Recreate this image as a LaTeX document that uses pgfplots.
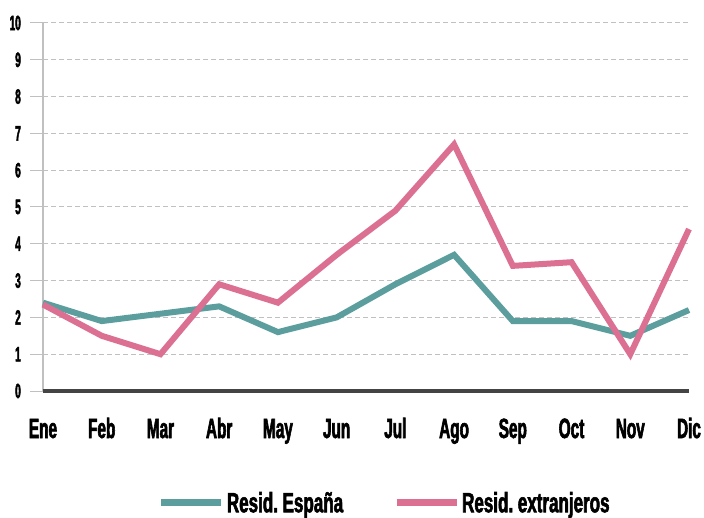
\documentclass[border=0pt]{standalone}
\usepackage{fontspec}
\setmainfont{Liberation Sans Bold}[FakeStretch=0.55, FakeBold=2]
\newfontfamily\numfont{Liberation Sans Bold}[FakeStretch=0.48, FakeBold=2]
\newfontfamily\legfont{Liberation Sans Bold}[FakeStretch=0.61, FakeBold=2]
\usepackage{pgfplots}
\pgfplotsset{compat=1.18}
\definecolor{teal1}{HTML}{5B9E9D}
\definecolor{pink1}{HTML}{DB7093}
\definecolor{gridc}{HTML}{C0C0C0}
\definecolor{axc}{HTML}{444444}
\begin{document}
\begin{tikzpicture}
\begin{axis}[
  at={(0,0)}, anchor=south west,
  scale only axis, width=646bp, height=368bp,
  xmin=0, xmax=11, ymin=0, ymax=10,
  axis x line=bottom, axis y line=left,
  axis line style={draw=none, -},
  clip=false,
  xtick={0,...,11},
  xticklabels={Ene,Feb,Mar,Abr,May,Jun,Jul,Ago,Sep,Oct,Nov,Dic},
  ytick={0,...,10},
  /pgf/number format/assume math mode=true,
  major tick length=0pt,
  xticklabel style={font=\fontsize{28}{28}\selectfont, anchor=base, inner sep=0pt, yshift=-47bp},
  yticklabel style={font=\numfont\fontsize{21}{21}\selectfont, anchor=east, inner sep=0pt, xshift=-22bp},
  ymajorgrids, major grid style={gridc, dash pattern=on 5bp off 3bp, line width=1bp},
  legend columns=2,
  legend style={draw=none, fill=none, at={(0.529,-0.304)}, anchor=center,
    font=\legfont\fontsize{28}{28}\selectfont,
    /tikz/every even column/.append style={column sep=48bp}},
  legend image code/.code={\draw[#1, line width=7bp] (0bp,0bp) -- (60bp,0bp);},
]
\foreach \y in {0,...,10} {
  \edef\temp{\noexpand\draw[gridc, line width=1bp] (axis cs:0,\y) -- ++(-13bp,0);}
  \temp
}
\draw[gridc, line width=1.5bp] (axis cs:0,0) -- (axis cs:0,10);
\addplot[teal1, line width=6bp] coordinates {
(0,2.4) (1,1.9) (2,2.1) (3,2.3) (4,1.6) (5,2.0) (6,2.9) (7,3.7) (8,1.9) (9,1.9) (10,1.5) (11,2.2)};
\addlegendentry{Resid.\,España}
\addplot[pink1, line width=6bp] coordinates {
(0,2.35) (1,1.5) (2,1.0) (3,2.9) (4,2.4) (5,3.7) (6,4.9) (7,6.7) (8,3.4) (9,3.5) (10,1.0) (11,4.4)};
\addlegendentry{Resid.\,extranjeros}
\draw[axc, line width=4bp] (axis cs:0,0) -- (axis cs:11,0);
\end{axis}
\path[use as bounding box] (-43bp,-126bp) rectangle (661bp,391bp);
\end{tikzpicture}
\end{document}
